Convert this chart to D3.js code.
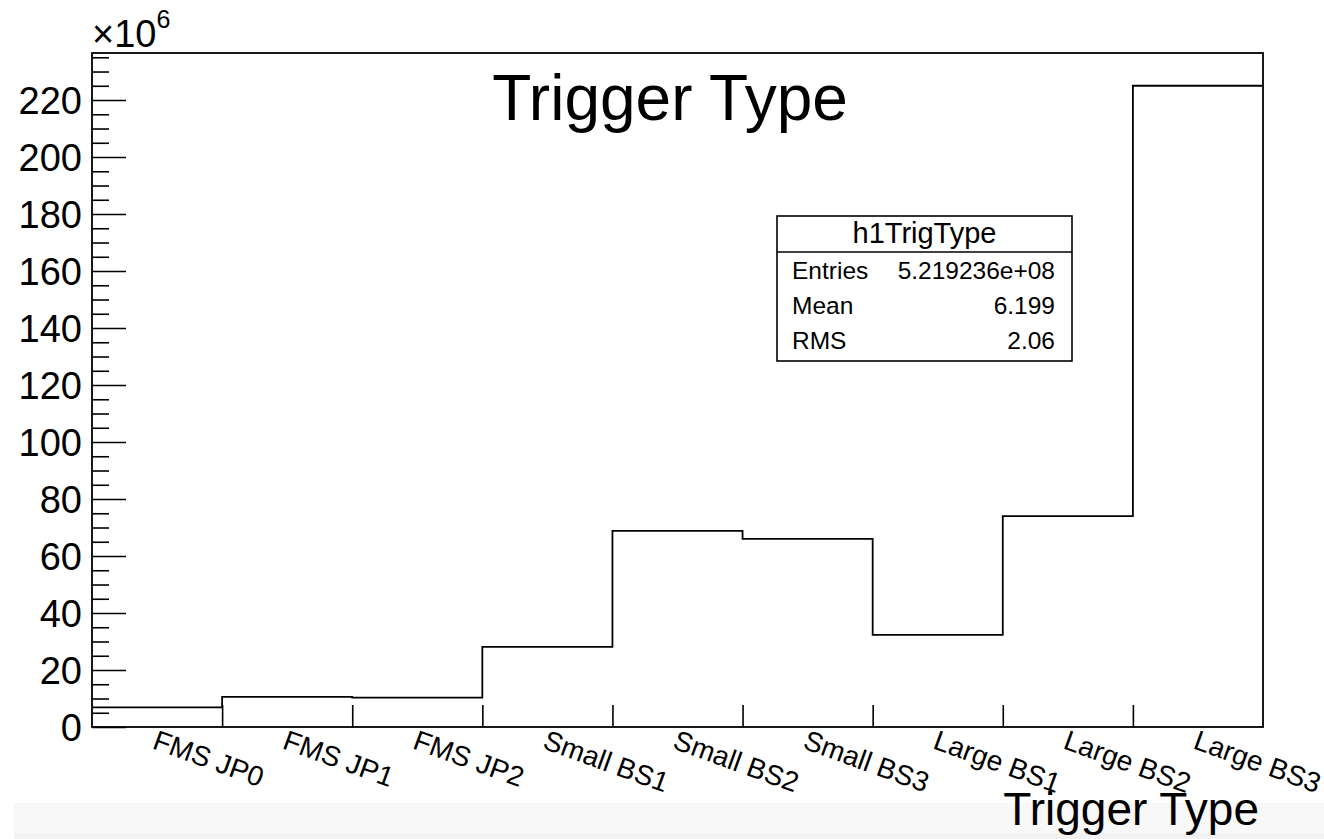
<!DOCTYPE html>
<html>
<head>
<meta charset="utf-8">
<script src="https://cdn.jsdelivr.net/npm/d3@7/dist/d3.min.js"></script>
<style>
  html, body { margin: 0; padding: 0; background: #fff; }
  svg { display: block; font-family: "Liberation Sans", Arial, Helvetica, sans-serif; }
</style>
</head>
<body>
<svg id="chart" width="1324" height="839"></svg>
<script>
// trigger categories (one bin each)
var categories = ['FMS JP0', 'FMS JP1', 'FMS JP2', 'Small BS1', 'Small BS2',
  'Small BS3', 'Large BS1', 'Large BS2', 'Large BS3'];
// counts per bin, in units of 10^6
var counts = [6.9, 10.6, 10.3, 28.1, 68.8, 66.0, 32.3, 74.0, 225.0];
var yMajorTicks = [0, 20, 40, 60, 80, 100, 120, 140, 160, 180, 200, 220];
var statsRows = [['Entries', '5.219236e+08'], ['Mean', '6.199'], ['RMS', '2.06']];

drawHist();

function drawHist() {
  var svg = d3.select('#chart');
  var left = 92, right = 1263, top = 53, bottom = 727;

  // grey strip along the bottom of the canvas
  svg.append('rect')
    .attr('x', 14).attr('y', 803)
    .attr('width', 1324 - 14).attr('height', 36)
    .style('fill', '#f8f8f8');
  svg.append('rect')
    .attr('x', 14).attr('y', 833)
    .attr('width', 1324 - 14).attr('height', 6)
    .style('fill', '#f2f2f2');

  var x = d3.scaleLinear().domain([0, categories.length]).range([left, right]);
  var y = d3.scaleLinear().domain([0, 236.5]).range([bottom, top]);

  // y axis, ticks pointing inwards
  var yMinor = d3.range(0, 236, 5).filter(function(v){ return v % 20 !== 0; });
  var gyMinor = svg.append('g')
    .attr('transform', 'translate(' + left + ',0)')
    .call(d3.axisLeft(y).tickValues(yMinor).tickSize(-17).tickFormat(''));
  var gy = svg.append('g')
    .attr('transform', 'translate(' + left + ',0)')
    .call(d3.axisLeft(y).tickValues(yMajorTicks).tickSize(-34).tickPadding(10)
      .tickFormat(d3.format('d')));
  [gy, gyMinor].forEach(function(g) {
    g.select('.domain').remove();
    g.selectAll('line').attr('stroke', '#000').attr('stroke-width', 1.6);
  });
  gy.selectAll('text')
    .style('font-size', '38px')
    .style('font-family', '"Liberation Sans", Arial, sans-serif')
    .attr('fill', '#000')
    .attr('dy', '0.36em');

  // x axis ticks at bin edges
  var gx = svg.append('g')
    .attr('transform', 'translate(0,' + bottom + ')')
    .call(d3.axisBottom(x).tickValues(d3.range(1, categories.length)).tickSize(-22).tickFormat(''));
  gx.select('.domain').remove();
  gx.selectAll('line').attr('stroke', '#000').attr('stroke-width', 1.6);

  // rotated bin labels, starting at each bin centre
  svg.append('g').selectAll('text')
    .data(categories)
    .enter()
    .append('text')
      .attr('transform', function(d, i) {
        return 'translate(' + (x(i + 0.5) + 1) + ',' + (bottom + 2) + ') rotate(20)';
      })
      .attr('dy', '0.72em')
      .style('font-size', '28px')
      .attr('fill', '#000')
      .text(function(d){ return d; });

  // histogram outline
  var pts = [];
  counts.forEach(function(c, i) {
    pts.push([x(i), y(c)]);
    pts.push([x(i + 1), y(c)]);
  });
  svg.append('path')
    .attr('d', d3.line()(pts))
    .style('fill', 'none')
    .attr('stroke', '#000')
    .attr('stroke-width', 1.8);

  // frame
  svg.append('rect')
    .attr('x', left).attr('y', top)
    .attr('width', right - left).attr('height', bottom - top)
    .style('fill', 'none')
    .attr('stroke', '#000')
    .attr('stroke-width', 1.8);

  // exponent label
  var ex = svg.append('text')
    .attr('x', left).attr('y', 47)
    .style('font-size', '38px')
    .attr('fill', '#000');
  ex.append('tspan').text('\u00d710');
  ex.append('tspan').attr('dy', -19).style('font-size', '25px').text('6');

  // title
  svg.append('text')
    .attr('x', 670).attr('y', 120)
    .style('text-anchor', 'middle')
    .style('font-size', '64px')
    .attr('fill', '#000')
    .text('Trigger Type');

  // x axis title
  svg.append('text')
    .attr('x', 1259).attr('y', 825)
    .style('text-anchor', 'end')
    .style('font-size', '46px')
    .attr('fill', '#000')
    .text('Trigger Type');

  // stats box
  var bx = 777, by = 216, bw = 295, bh = 145;
  var box = svg.append('g');
  box.append('rect')
    .attr('x', bx).attr('y', by)
    .attr('width', bw).attr('height', bh)
    .style('fill', '#fff')
    .attr('stroke', '#000')
    .attr('stroke-width', 1.6);
  box.append('line')
    .attr('x1', bx).attr('x2', bx + bw)
    .attr('y1', 252).attr('y2', 252)
    .attr('stroke', '#000')
    .attr('stroke-width', 1.6);
  box.append('text')
    .attr('x', bx + bw / 2).attr('y', 243)
    .style('text-anchor', 'middle')
    .style('font-size', '29px')
    .attr('fill', '#000')
    .text('h1TrigType');
  statsRows.forEach(function(r, i) {
    var yy = 279 + i * 35;
    box.append('text')
      .attr('x', 792).attr('y', yy)
      .style('font-size', '24.5px')
      .attr('fill', '#000')
      .text(r[0]);
    box.append('text')
      .attr('x', 1055).attr('y', yy)
      .style('text-anchor', 'end')
      .style('font-size', '24.5px')
      .attr('fill', '#000')
      .text(r[1]);
  });
}
</script>
</body>
</html>
